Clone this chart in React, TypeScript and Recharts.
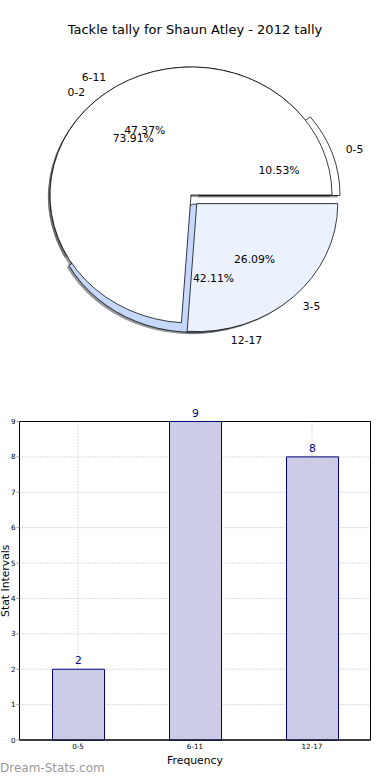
import React from 'react';
import {
  PieChart,
  Pie,
  Cell,
  BarChart,
  Bar,
  XAxis,
  YAxis,
  CartesianGrid,
  LabelList,
  ReferenceArea,
} from 'recharts';

// pie 1: tally per interval (same counts as the bar chart)
const tallyNames = ['0-5', '6-11', '12-17'];
const tallyCounts = [2, 9, 8];
// pie 2: drawn over the first one
const splitNames = ['0-2', '3-5'];
const splitCounts = [17, 6];

// bar chart
const barNames = ['0-5', '6-11', '12-17'];
const barCounts = [2, 9, 8];
const yTicks = [0, 1, 2, 3, 4, 5, 6, 7, 8, 9];

// styling
const tallyColors = ['#ffffff', '#ffffff', '#c6d8fb'];
const splitColors = ['#ffffff', '#ecf2fd'];
const tallyExplode = [0.06, 0, 0.05];
const splitExplode = [0, 0.06];

const FONT = '"DejaVu Sans", sans-serif';
const TXT = 10.8;
const K = 0.908; // vertical squash of the pie (it is an ellipse in the original)
const R = 141;
const CX = 191;
const CY = 195 / K;
const SHADOW = 0.015;
const DROP = 3.3; // exploded wedges sit a little lower in the original

function midAngles(values: number[]) {
  const total = values.reduce((a, b) => a + b, 0);
  let acc = 0;
  return values.map((v) => {
    const m = ((acc + v / 2) / total) * 360;
    acc += v;
    return m;
  });
}

function shade(hex: string) {
  const n = parseInt(hex.slice(1), 16);
  const r = Math.round(((n >> 16) & 255) * 0.3);
  const g = Math.round(((n >> 8) & 255) * 0.3);
  const b = Math.round((n & 255) * 0.3);
  return `rgb(${r},${g},${b})`;
}

const unsquash = (y: number) => `matrix(1 0 0 ${1 / K} 0 ${y - y / K})`;

function renderLabel(p: any, i: number) {
  if (p.index !== i) return <g />;
  const rad = (p.midAngle * Math.PI) / 180;
  const cos = Math.cos(rad);
  const sin = Math.sin(rad);
  const nx = p.cx + 1.1 * R * cos;
  const ny = p.cy - 1.1 * R * sin;
  const px = p.cx + 0.6 * R * cos;
  const py = p.cy - 0.6 * R * sin;
  return (
    <g>
      <text
        x={nx}
        y={ny}
        textAnchor={nx > CX ? 'start' : 'end'}
        dominantBaseline="central"
        fontSize={TXT}
        fill="#000"
        transform={unsquash(ny)}
      >
        {p.name}
      </text>
      <text
        x={px}
        y={py}
        textAnchor="middle"
        dominantBaseline="central"
        fontSize={TXT}
        fill="#000"
        transform={unsquash(py)}
      >
        {(p.percent * 100).toFixed(2)}%
      </text>
    </g>
  );
}

type Mode = 'shadow' | 'wedge' | 'label';

function wedgePies(prefix: string, names: string[], values: number[], colors: string[], explode: number[], mode: Mode) {
  const data = names.map((name, i) => ({ name, value: values[i] }));
  const mids = midAngles(values);
  return names.map((_, i) => {
    const d = explode[i] * R;
    const rad = (mids[i] * Math.PI) / 180;
    let cx = CX + d * Math.cos(rad);
    let cy = CY - d * Math.sin(rad) + (explode[i] > 0 ? DROP : 0);
    if (mode === 'shadow') {
      cx -= SHADOW * R;
      cy += SHADOW * R;
    }
    return (
      <Pie
        key={`${prefix}-${mode}-${i}`}
        data={data}
        dataKey="value"
        nameKey="name"
        cx={cx}
        cy={cy}
        outerRadius={R}
        startAngle={0}
        endAngle={360}
        isAnimationActive={false}
        labelLine={false}
        label={mode === 'label' ? (p: any) => renderLabel(p, i) : false}
      >
        {data.map((_, j) => {
          const on = j === i && mode !== 'label';
          return (
            <Cell
              key={j}
              fill={on ? (mode === 'shadow' ? shade(colors[j]) : colors[j]) : 'none'}
              fillOpacity={mode === 'shadow' ? 0.55 : 1}
              stroke={on && mode === 'wedge' ? '#000' : 'none'}
              strokeWidth={0.8}
            />
          );
        })}
      </Pie>
    );
  });
}

const barData = barNames.map((name, i) => ({ name, count: barCounts[i] }));

const yLabel = (props: any) => {
  const vb = props.viewBox;
  const cy = vb.y + vb.height / 2;
  return (
    <text transform={`translate(8.5 ${cy}) rotate(-90)`} textAnchor="middle" fontSize={TXT} fill="#000">
      Stat Intervals
    </text>
  );
};

const xLabel = (props: any) => {
  const vb = props.viewBox;
  return (
    <text x={vb.x + vb.width / 2} y={vb.y + 24} textAnchor="middle" fontSize={TXT} fill="#000">
      Frequency
    </text>
  );
};

export default function App() {
  return (
    <div
      style={{
        position: 'absolute',
        left: 0,
        top: 0,
        width: 390,
        height: 780,
        overflow: 'hidden',
        background: '#fff',
        fontFamily: FONT,
      }}
    >
      <div
        style={{
          position: 'absolute',
          top: 22,
          left: 0,
          width: 390,
          textAlign: 'center',
          fontSize: 13,
          lineHeight: '16px',
          color: '#000',
        }}
      >
        Tackle tally for Shaun Atley - 2012 tally
      </div>

      {/* pie, squashed vertically like the original */}
      <div style={{ position: 'absolute', top: 0, left: 0, transform: `scaleY(${K})`, transformOrigin: '0 0' }}>
        <PieChart width={390} height={400} margin={{ top: 0, right: 0, bottom: 0, left: 0 }}>
          {wedgePies('tally', tallyNames, tallyCounts, tallyColors, tallyExplode, 'shadow')}
          {wedgePies('split', splitNames, splitCounts, splitColors, splitExplode, 'shadow')}
          {wedgePies('tally', tallyNames, tallyCounts, tallyColors, tallyExplode, 'wedge')}
          {wedgePies('split', splitNames, splitCounts, splitColors, splitExplode, 'wedge')}
          {wedgePies('tally', tallyNames, tallyCounts, tallyColors, tallyExplode, 'label')}
          {wedgePies('split', splitNames, splitCounts, splitColors, splitExplode, 'label')}
        </PieChart>
      </div>

      <div style={{ position: 'absolute', top: 390, left: 0 }}>
        <BarChart width={390} height={390} data={barData} margin={{ top: 31.5, right: 19.5, bottom: 0, left: 0 }}>
          <CartesianGrid stroke="#b4b4b4" strokeDasharray="1 2" />
          <XAxis
            dataKey="name"
            height={40}
            tickSize={3}
            tickMargin={1}
            tickLine={false}
            axisLine={{ stroke: '#000' }}
            tick={{ fontSize: 7.2, fill: '#000' }}
            label={xLabel}
          />
          <YAxis
            type="number"
            domain={[0, 9]}
            ticks={yTicks}
            interval={0}
            width={19.5}
            tickSize={3}
            tickMargin={1}
            tickLine={{ stroke: '#999' }}
            axisLine={{ stroke: '#000' }}
            tick={{ fontSize: 7.2, fill: '#000' }}
            label={yLabel}
          />
          <Bar dataKey="count" fill="#ccccE6" stroke="#000080" strokeWidth={1} barSize={52} isAnimationActive={false}>
            <LabelList dataKey="count" position="top" offset={5} fill="#000080" fontSize={TXT} />
          </Bar>
          <ReferenceArea y1={0} y2={9} fill="none" stroke="#000" strokeWidth={1} ifOverflow="visible" />
        </BarChart>
      </div>

      <div
        style={{
          position: 'absolute',
          left: 0,
          top: 761,
          fontSize: 12,
          lineHeight: '14px',
          color: '#9a9a9a',
        }}
      >
        Dream-Stats.com
      </div>
    </div>
  );
}
